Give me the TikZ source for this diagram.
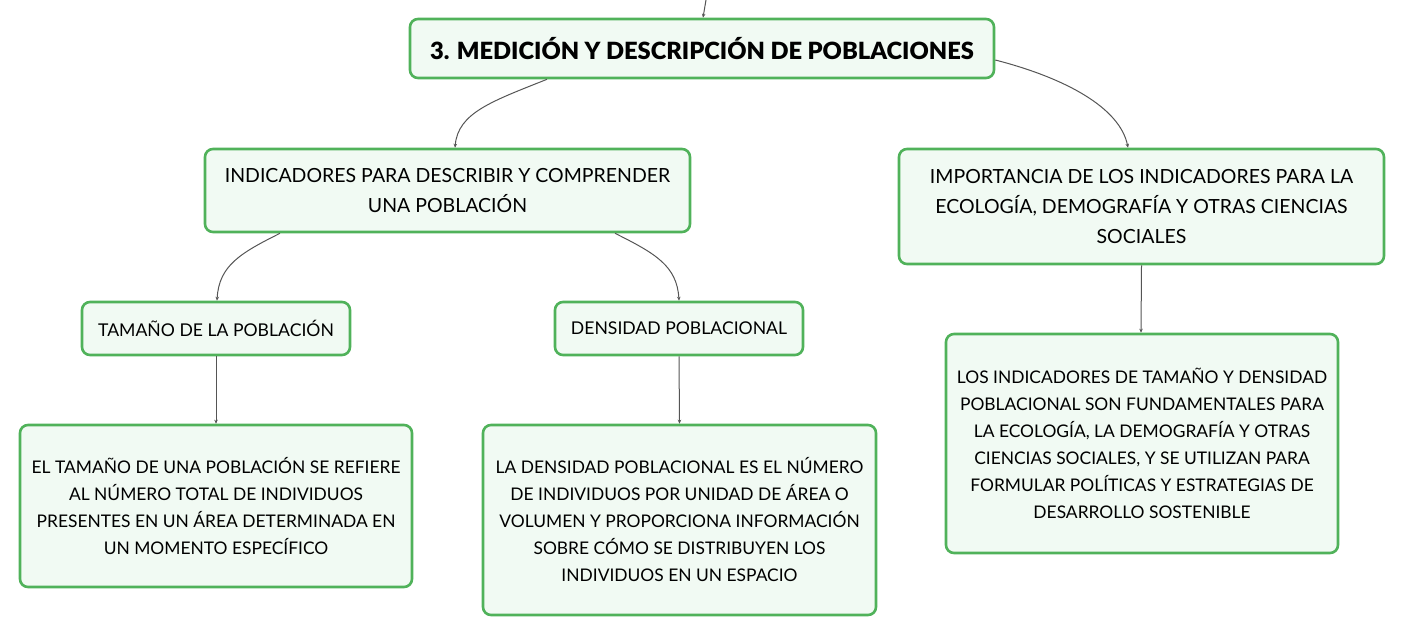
\documentclass[tikz,border=0pt]{standalone}
\usepackage{fontspec}
\setmainfont{Lato}
\newfontfamily\heavyfont{Lato Black}
\usetikzlibrary{arrows.meta,calc}
\definecolor{boxgreen}{RGB}{80,178,90}
\definecolor{boxfill}{RGB}{241,250,243}
\definecolor{linegray}{RGB}{85,85,85}
\tikzset{
  box/.style={draw=boxgreen, fill=boxfill, line width=2.6pt, rounded corners=8pt, align=center, inner sep=0pt},
  conn/.style={draw=linegray, line width=1pt, -{Stealth[length=4pt,width=3.5pt]}},
  body/.style={font=\fontsize{17.4}{27}\selectfont},
  head/.style={font=\fontsize{19.5}{30}\selectfont},
  small/.style={font=\fontsize{17.6}{20}\selectfont},
}
\begin{document}
\begin{tikzpicture}[x=1pt,y=-1pt]
\useasboundingbox (0,0) rectangle (1405,637);
\node[box, minimum width=584pt, minimum height=59pt, font=\fontsize{23.7}{26}\heavyfont] (root) at (702,48.5) {3. MEDICIÓN Y DESCRIPCIÓN DE POBLACIONES};
\node[box, head, minimum width=485pt, minimum height=83pt] (A) at (447.5,190.5) {INDICADORES PARA DESCRIBIR Y COMPRENDER\\UNA POBLACIÓN};
\node[box, head, minimum width=485pt, minimum height=115pt] (B) at (1141.5,206.5) {IMPORTANCIA DE LOS INDICADORES PARA LA\\ECOLOGÍA, DEMOGRAFÍA Y OTRAS CIENCIAS\\SOCIALES};
\node[box, small, minimum width=268pt, minimum height=53pt] (C) at (216,328.5) {TAMAÑO DE LA POBLACIÓN};
\node[box, small, minimum width=248pt, minimum height=53pt] (D) at (679,328.5) {DENSIDAD POBLACIONAL};
\node[box, body, minimum width=392pt, minimum height=162pt] (E) at (216,506) {EL TAMAÑO DE UNA POBLACIÓN SE REFIERE\\AL NÚMERO TOTAL DE INDIVIDUOS\\PRESENTES EN UN ÁREA DETERMINADA EN\\UN MOMENTO ESPECÍFICO};
\node[box, body, minimum width=393pt, minimum height=190pt] (F) at (679.5,520) {LA DENSIDAD POBLACIONAL ES EL NÚMERO\\DE INDIVIDUOS POR UNIDAD DE ÁREA O\\VOLUMEN Y PROPORCIONA INFORMACIÓN\\SOBRE CÓMO SE DISTRIBUYEN LOS\\INDIVIDUOS EN UN ESPACIO};
\node[box, body, minimum width=392pt, minimum height=219pt] (G) at (1142,443.5) {LOS INDICADORES DE TAMAÑO Y DENSIDAD\\POBLACIONAL SON FUNDAMENTALES PARA\\LA ECOLOGÍA, LA DEMOGRAFÍA Y OTRAS\\CIENCIAS SOCIALES, Y SE UTILIZAN PARA\\FORMULAR POLÍTICAS Y ESTRATEGIAS DE\\DESARROLLO SOSTENIBLE};
\coordinate (top) at (706,0);
\draw[conn] (top) -- ([xshift=1pt]root.north);
\draw[conn] ([xshift=-155pt]root.south) .. controls +(-55,22) and +(3,-35) .. ([xshift=7.5pt]A.north);
\draw[conn] ([yshift=-11.5pt]root.east) .. controls +(70,18) and +(-8,-40) .. ([xshift=-13.5pt]B.north);
\draw[conn] ([xshift=-167.5pt]A.south) .. controls +(-40,20) and +(2,-35) .. ([xshift=1pt]C.north);
\draw[conn] ([xshift=167.5pt]A.south) .. controls +(40,20) and +(-2,-35) .. (D.north);
\draw[conn] (C.south) -- (E.north);
\draw[conn] (D.south) -- (F.north);
\draw[conn] (B.south) -- ([xshift=-1pt]G.north);
\end{tikzpicture}
\end{document}
